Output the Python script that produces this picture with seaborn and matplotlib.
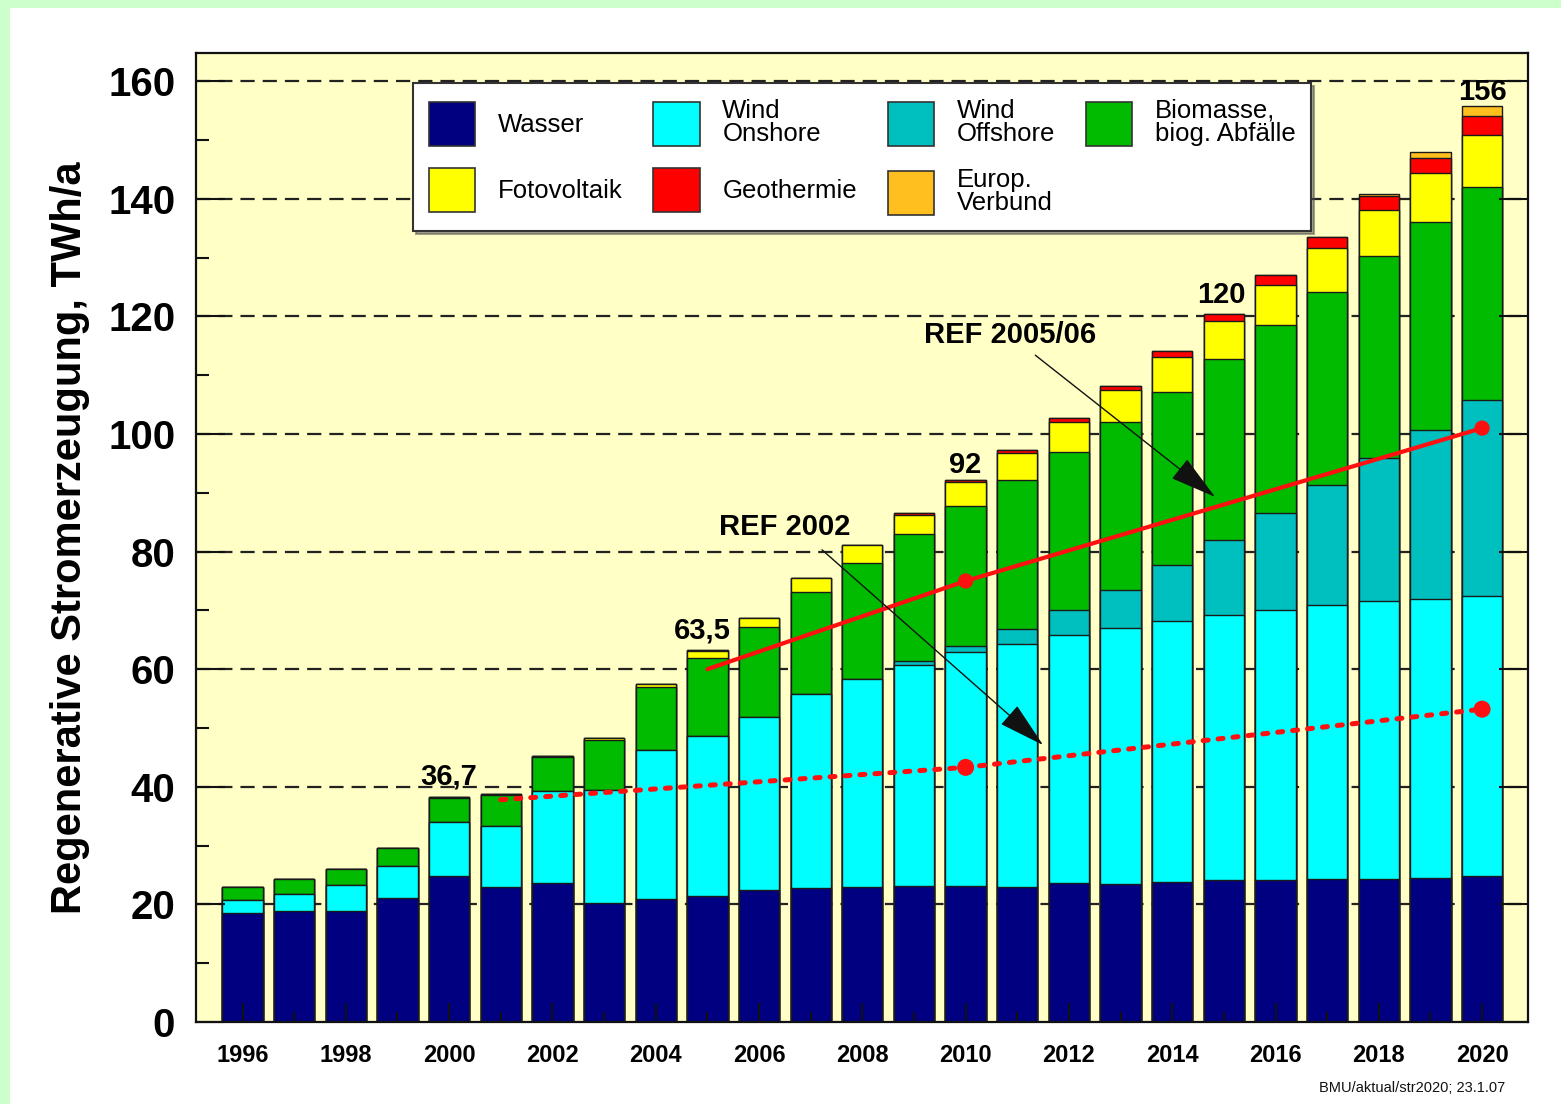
import numpy as np
import matplotlib
matplotlib.use("Agg")
import matplotlib.pyplot as plt
from matplotlib.patches import Patch, Rectangle
import seaborn as sns

# -------------------------------
# Data (TWh/a)
# -------------------------------
years = list(range(1996, 2021))

wasser = [18.5, 18.9, 18.9, 21.1, 24.8, 23.0, 23.6, 20.2, 20.9, 21.5, 22.4, 22.8, 23.0,
          23.2, 23.1, 23.0, 23.6, 23.5, 23.8, 24.1, 24.1, 24.3, 24.3, 24.5, 24.8]
wind_on = [2.2, 2.8, 4.4, 5.5, 9.2, 10.3, 15.7, 19.2, 25.4, 27.2, 29.5, 32.9, 35.4,
           37.5, 39.8, 41.3, 42.2, 43.5, 44.4, 45.2, 45.9, 46.7, 47.3, 47.5, 47.6]
wind_off = [0, 0, 0, 0, 0, 0, 0, 0, 0, 0, 0, 0, 0,
            0.7, 1.1, 2.6, 4.3, 6.5, 9.6, 12.7, 16.5, 20.3, 24.3, 28.6, 33.3]
biomasse = [2.3, 2.6, 2.7, 3.0, 4.1, 5.3, 5.8, 8.6, 10.6, 13.2, 15.3, 17.4, 19.7,
            21.6, 23.7, 25.3, 26.8, 28.5, 29.3, 30.7, 32.0, 32.9, 34.3, 35.4, 36.3]
foto = [0, 0, 0, 0, 0.1, 0.1, 0.2, 0.3, 0.6, 1.2, 1.5, 2.4, 3.1,
        3.3, 4.1, 4.5, 5.1, 5.4, 6.0, 6.5, 6.9, 7.5, 7.9, 8.4, 8.8]
geo = [0, 0, 0, 0, 0, 0, 0, 0, 0, 0.1, 0, 0, 0,
       0.3, 0.3, 0.5, 0.7, 0.8, 1.0, 1.2, 1.7, 1.8, 2.4, 2.6, 3.3]
verbund = [0, 0, 0, 0, 0, 0, 0, 0, 0, 0, 0, 0, 0,
           0, 0, 0, 0, 0, 0, 0, 0, 0, 0.3, 1.0, 1.7]

ref06_years = [2005, 2010, 2020]
ref06_vals = [60.0, 75.0, 101.0]
ref02_years = [2001, 2010, 2020]
ref02_vals = [37.8, 43.3, 53.2]

total_labels = ["36,7", "63,5", "92", "120", "156"]
total_label_x = [2000, 2004.9, 2010, 2014.95, 2020]
total_label_y = [41.7, 66.5, 94.7, 123.6, 158.2]

layers = [
    ("Wasser", wasser, "#000080"),
    ("Wind\nOnshore", wind_on, "#00FFFF"),
    ("Wind\nOffshore", wind_off, "#00BFBF"),
    ("Biomasse,\nbiog. Abfälle", biomasse, "#00BB00"),
    ("Fotovoltaik", foto, "#FFFF00"),
    ("Geothermie", geo, "#FF0000"),
    ("Europ.\nVerbund", verbund, "#FFBF1F"),
]

# -------------------------------
# Style / figure
# -------------------------------
sns.set_theme(style="white")
plt.rcParams["font.family"] = ["Liberation Sans", "DejaVu Sans"]
plt.rcParams["text.color"] = "black"
plt.rcParams["axes.labelcolor"] = "black"
plt.rcParams["xtick.color"] = "black"
plt.rcParams["ytick.color"] = "black"

fig = plt.figure(figsize=(15.61, 11.04), dpi=100, facecolor="#CCFFCC")
fig.patches.append(Rectangle((10 / 1561, 0), 1, (1104 - 8) / 1104,
                             transform=fig.transFigure, facecolor="white",
                             edgecolor="none", zorder=-1))
ax = fig.add_axes([0.1256, 0.0743, 0.8533, 0.8777])
ax.set_facecolor("#FFFFC6")

# -------------------------------
# Stacked bars (cumulative, drawn top layer first)
# -------------------------------
cum = np.zeros(len(years))
tops = []
for name, vals, col in layers:
    cum = cum + np.array(vals)
    tops.append(cum.copy())

for (name, vals, col), top in reversed(list(zip(layers, tops))):
    sns.barplot(x=years, y=top, native_scale=True, color=col, saturation=1,
                width=0.78, edgecolor="#1a1a1a", linewidth=1.0,
                errorbar=None, ax=ax, zorder=2)

# dashed grid
for yv in range(20, 161, 20):
    ax.axhline(yv, color="#222222", lw=1.6, linestyle=(0, (6.4, 3.6)), zorder=1)

# -------------------------------
# REF lines
# -------------------------------
sns.lineplot(x=ref06_years, y=ref06_vals, color="#FF1010", lw=3, ax=ax, zorder=4)
sns.scatterplot(x=ref06_years[1:], y=ref06_vals[1:], color="#FF1010", s=120,
                edgecolor="none", ax=ax, zorder=5)
sns.lineplot(x=ref02_years, y=ref02_vals, color="#FF1010", lw=3.6, ax=ax, zorder=4,
             linestyle=(0, (1.0, 2.0)), dash_capstyle="round")
sns.scatterplot(x=ref02_years[1:], y=ref02_vals[1:], color="#FF1010", s=150,
                edgecolor="none", ax=ax, zorder=5)

# annotations
arrow = dict(arrowstyle="-|>,head_length=1.5,head_width=0.4", color="#111111",
             lw=1.0, mutation_scale=20, shrinkA=0, shrinkB=0)
ax.text(2010.86, 116.8, "REF 2005/06", ha="center", va="center",
        fontsize=21, fontweight="bold", zorder=6)
ax.annotate("", xy=(2014.83, 89.3), xytext=(2011.35, 113.4), arrowprops=arrow, zorder=6)
ax.text(2006.5, 84.2, "REF 2002", ha="center", va="center",
        fontsize=21, fontweight="bold", zorder=6)
ax.annotate("", xy=(2011.5, 47.1), xytext=(2007.22, 80.3), arrowprops=arrow, zorder=6)

for s, xv, yv in zip(total_labels, total_label_x, total_label_y):
    ax.text(xv, yv, s, ha="center", va="center", fontsize=21,
            fontweight="bold", zorder=6)

# -------------------------------
# Axes
# -------------------------------
ax.set_xlim(1995.1, 2020.89)
ax.set_ylim(0, 164.8)
ax.set_axisbelow(False)
ax.set_xticks(range(1996, 2021, 2))
ax.set_xticks(range(1997, 2021, 2), minor=True)
ax.set_yticks(range(0, 161, 20))
ax.set_yticks(range(10, 161, 20), minor=True)
ax.tick_params(axis="x", which="major", direction="in", length=14, width=1.5,
               pad=16, labelsize=17, bottom=True, top=False, color="#111")
ax.tick_params(axis="x", which="minor", direction="in", length=7, width=1.5,
               bottom=True, top=False, color="#111")
ax.tick_params(axis="y", which="major", direction="in", length=21, width=1.5,
               pad=15, labelsize=29, left=True, right=True, color="#111")
ax.tick_params(axis="y", which="minor", direction="in", length=9, width=1.5,
               left=True, right=False, color="#111")
for lab in ax.get_xticklabels() + ax.get_yticklabels():
    lab.set_fontweight("bold")
for sp in ax.spines.values():
    sp.set_color("#111")
    sp.set_linewidth(1.6)

ax.set_xlabel("")
ax.set_ylabel("Regenerative Stromerzeugung, TWh/a", fontsize=30, fontweight="bold")
ax.yaxis.set_label_coords(-0.08, 0.5)

# legend (column-major order to fill rows like the original)
order = [0, 4, 1, 5, 2, 6, 3]
handles = [Patch(facecolor=layers[i][2], edgecolor="#333333", lw=1.2) for i in order]
labels = [layers[i][0] for i in order]
leg = ax.legend(handles, labels, ncol=4, loc="upper left",
                bbox_to_anchor=(0.1629, 0.969), borderaxespad=0,
                fontsize=18.5, handlelength=1.8, handleheight=2.25,
                handletextpad=0.88, columnspacing=1.2, labelspacing=0.85,
                borderpad=0.62, frameon=True, fancybox=False, framealpha=1,
                edgecolor="#333333", facecolor="white", shadow=True)
leg.get_frame().set_linewidth(1.5)
leg.set_zorder(7)
for t in leg.get_texts():
    t.set_linespacing(0.95)

fig.text(1505 / 1561, 1 - 1088 / 1104, "BMU/aktual/str2020; 23.1.07",
         ha="right", va="center", fontsize=10.5, color="#111")

fig.savefig("out.png", dpi=100, facecolor=fig.get_facecolor())
